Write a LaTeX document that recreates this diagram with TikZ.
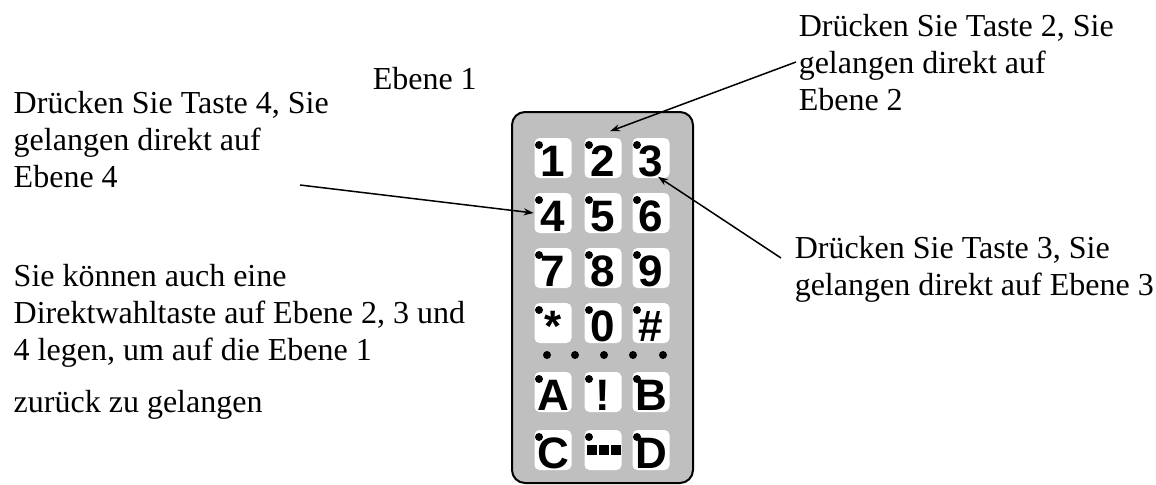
\documentclass[tikz,border=0pt]{standalone}
\usepackage{fontspec}
\setmainfont{Liberation Serif}
\newfontfamily\tastenfont{Liberation Sans}
\usetikzlibrary{arrows.meta}
\tikzset{
  taste/.style={fill=white,rounded corners=2.5pt,minimum width=18.5pt,minimum height=20pt,inner sep=0pt,
    text height=18.8pt,text depth=0pt,font=\tastenfont\bfseries\fontsize{22}{22}\selectfont},
  hinweis/.style={anchor=base west,align=left,inner sep=0pt,font=\fontsize{16}{18.5}\selectfont}
}
\begin{document}
\begin{tikzpicture}[x=.5pt,y=-.5pt,line width=.75pt,>={Stealth[length=5pt,width=3.5pt]}]
\useasboundingbox (0,0) rectangle (1156,484);
% Telefon
\draw[fill=black!25,rounded corners=6.5pt,line width=1pt] (512,112) rectangle (693,483);
\foreach \r/\y/\a/\b/\c in {1/158/1/2/3,2/213/4/5/6,3/268/7/8/9,4/323/*/0/\#,5/392/A/!/B,6/450/C//D}{
  \node[taste] (t\r1) at (553,\y) {\a};
  \node[taste] (t\r2) at (603,\y) {\b};
  \node[taste] (t\r3) at (651,\y) {\c};
  \foreach \c in {1,2,3}{\fill ([shift={(-14,-13)}]t\r\c.center) circle (2pt);}
}
\foreach \dx in {-11,1,13}{\fill ([shift={(\dx,0)}]t62.center) +(-5,-5) rectangle +(5,5);}
\foreach \x in {547,575,604,633,663}{\fill (\x,355) circle (2pt);}
% Texte (Anker = letzte Zeile)
\node[hinweis] (e1) at (372,89) {Ebene 1};
\node[hinweis] (h4) at (13,187) {Drücken Sie Taste 4, Sie\\gelangen direkt auf\\Ebene 4};
\node[hinweis] (h2) at (798,110) {Drücken Sie Taste 2, Sie\\gelangen direkt auf\\Ebene 2};
\node[hinweis] (h3) at (794,295) {Drücken Sie Taste 3, Sie\\gelangen direkt auf Ebene 3};
\node[hinweis] (hz) at (13,412) {Sie können auch eine\\Direktwahltaste auf Ebene 2, 3 und\\4 legen, um auf die Ebene 1\\[7.5pt]zurück zu gelangen};
% Pfeile
\coordinate (a4) at (300,185);
\coordinate (a2) at (796,62);
\coordinate (a3) at (781,258);
\draw[->] (a4) -- (t21.west);
\draw[->] (a2) -- ([shift={(7,-6)}]t12.north);
\draw[->] (a3) -- ([shift={(7,-2)}]t13.south);
\end{tikzpicture}
\end{document}
